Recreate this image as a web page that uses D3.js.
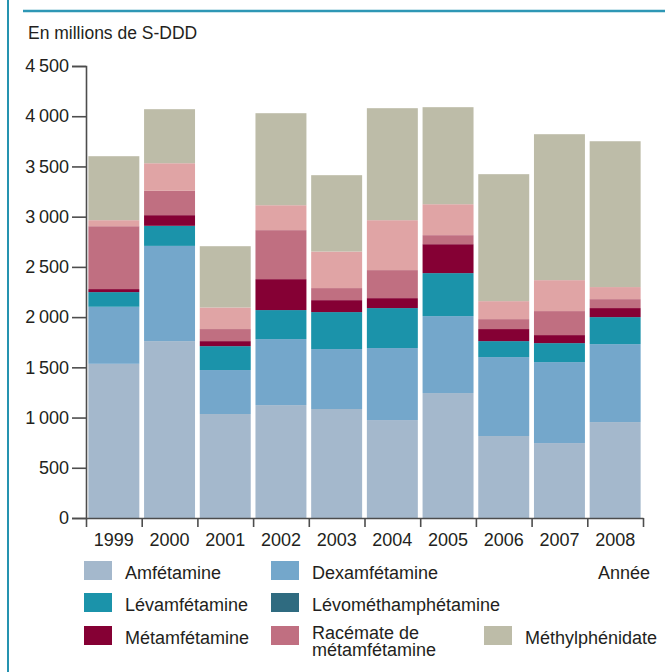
<!DOCTYPE html>
<html>
<head>
<meta charset="utf-8">
<script src="https://cdn.jsdelivr.net/npm/d3@7"></script>
<style>
  body { margin: 0; background: #fff; }
  svg text { font-family: "Liberation Sans", Arial, sans-serif; fill: #231f20; }
</style>
</head>
<body>
<svg id="chart"></svg>
<script>
// values in millions of S-DDD
let years = ["1999", "2000", "2001", "2002", "2003", "2004", "2005", "2006", "2007", "2008"]
let amfetamine = [1535, 1761, 1035, 1124, 1085, 975, 1244, 816, 746, 955]
let dexamfetamine = [568, 948, 438, 657, 597, 717, 766, 786, 806, 776]
let levamfetamine = [146, 200, 238, 289, 368, 398, 428, 159, 189, 269]
let levomethamphetamine = [0, 0, 0, 0, 0, 0, 0, 0, 0, 0]
let metamfetamine = [30, 106, 50, 308, 119, 99, 288, 120, 80, 90]
let racemate = [626, 242, 120, 488, 120, 279, 90, 99, 239, 89]
let autres = [60, 275, 215, 248, 364, 497, 308, 179, 308, 120]
let methylphenidate = [637, 538, 610, 916, 760, 1115, 966, 1264, 1453, 1452]
let yTicks = [0, 500, 1000, 1500, 2000, 2500, 3000, 3500, 4000, 4500]

let keys = ["amf", "dex", "lev", "levometh", "met", "rac", "autres", "methyl"]
let colors = {
  amf: "#a4b8cc", dex: "#74a7cb", lev: "#1b93aa", levometh: "#2f6b80",
  met: "#850034", rac: "#c06f81", autres: "#e0a4a5", methyl: "#bdbca8"
}
let legendItems = [
  {key: "amf", lines: ["Amfétamine"], col: 0, row: 0},
  {key: "dex", lines: ["Dexamfétamine"], col: 1, row: 0},
  {key: "lev", lines: ["Lévamfétamine"], col: 0, row: 1},
  {key: "levometh", lines: ["Lévométhamphétamine"], col: 1, row: 1},
  {key: "met", lines: ["Métamfétamine"], col: 0, row: 2},
  {key: "rac", lines: ["Racémate de", "métamfétamine"], col: 1, row: 2},
  {key: "methyl", lines: ["Méthylphénidate"], col: 2, row: 2}
]

let w = 665
let h = 672
let padLeft = 86
let padRight = 643
let padBottom = 518
let padTop = 66

let svg = d3.select("#chart").attr("width", w).attr("height", h)

let table = years.map((y, i) => ({
  year: y,
  amf: amfetamine[i], dex: dexamfetamine[i], lev: levamfetamine[i],
  levometh: levomethamphetamine[i], met: metamfetamine[i], rac: racemate[i],
  autres: autres[i], methyl: methylphenidate[i]
}))

let series = d3.stack().keys(keys)(table)

let xScale = d3.scaleBand()
               .domain(years)
               .range([padLeft, padRight])
               .paddingInner(0.085)
               .paddingOuter(0.0425)

let xEdges = d3.scaleLinear()
               .domain([0, years.length])
               .range([padLeft, padRight])

let yScale = d3.scaleLinear()
               .domain([0, 4500])
               .range([padBottom, padTop])

// frame
svg.append("line")
   .attr("x1", 8).attr("x2", 8).attr("y1", 0).attr("y2", h)
   .attr("stroke", "#2593b0").attr("stroke-width", 2)
svg.append("line")
   .attr("x1", 23).attr("x2", w).attr("y1", 11).attr("y2", 11)
   .attr("stroke", "#2e97b5").attr("stroke-width", 2.5)

svg.append("text")
   .attr("x", 28).attr("y", 39)
   .style("font-size", "17.5px")
   .text("En millions de S-DDD")

// bars
svg.append("g")
   .selectAll("g")
   .data(series)
   .enter()
   .append("g")
   .attr("fill", (d) => colors[d.key])
   .selectAll("rect")
   .data((d) => d)
   .enter()
   .append("rect")
   .attr("x", (d) => xScale(d.data.year))
   .attr("width", xScale.bandwidth())
   .attr("y", (d) => yScale(d[1]))
   .attr("height", (d) => yScale(d[0]) - yScale(d[1]))

// axes
let fr = d3.formatLocale({decimal: ",", thousands: "\u2009", grouping: [3], currency: ["", ""]})

let yAxis = d3.axisLeft(yScale)
              .tickValues(yTicks)
              .tickFormat(fr.format(","))
              .tickSizeOuter(0)
              .tickSize(14)
              .tickPadding(3)

let yG = svg.append("g")
   .attr("transform", "translate(" + padLeft + ",0)")
   .call(yAxis)

let xTicks = d3.axisBottom(xEdges)
               .tickValues(d3.range(years.length + 1))
               .tickFormat("")
               .tickSize(9)
               .tickSizeOuter(0)

let xG = svg.append("g")
   .attr("transform", "translate(0," + padBottom + ")")
   .call(xTicks)

let xLabels = d3.axisBottom(xScale)
                .tickSize(0)
                .tickPadding(15)

let xL = svg.append("g")
   .attr("transform", "translate(0," + padBottom + ")")
   .call(xLabels)
xL.select(".domain").remove()

svg.selectAll(".tick text")
   .style("font-size", "18px")
   .attr("fill", "#231f20")
   .attr("font-family", null)
svg.selectAll(".domain, .tick line")
   .attr("stroke", "#4d4d4d")
   .attr("stroke-width", 1.6)

svg.append("text")
   .attr("x", 624).attr("y", 579)
   .attr("text-anchor", "middle")
   .style("font-size", "18px")
   .text("Année")

// legend
let colX = [84, 271, 484]
let rowY = [561, 593, 626]

let leg = svg.append("g")
let items = leg.selectAll("g")
   .data(legendItems)
   .enter()
   .append("g")
   .attr("transform", (d) => "translate(" + colX[d.col] + "," + rowY[d.row] + ")")

items.append("rect")
     .attr("width", 28)
     .attr("height", 19)
     .attr("fill", (d) => colors[d.key])

items.append("text")
     .attr("x", 41)
     .attr("y", (d) => d.lines.length > 1 ? 13 : 17.5)
     .style("font-size", "18px")
     .selectAll("tspan")
     .data((d) => d.lines)
     .enter()
     .append("tspan")
     .attr("x", 41)
     .attr("dy", (d, i) => i === 0 ? 0 : 17)
     .text((d) => d)
</script>
</body>
</html>
